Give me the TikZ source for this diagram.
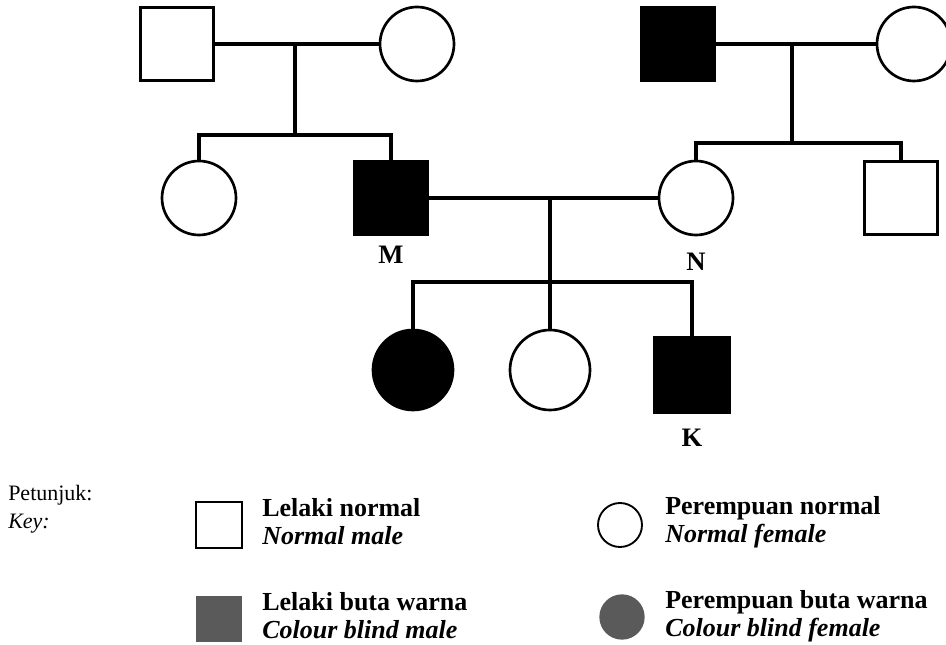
\documentclass[tikz,border=0pt]{standalone}
\usepackage{fontspec}
\setmainfont{Liberation Serif}
\usepackage{xcolor}
\usetikzlibrary{positioning}
\definecolor{keygray}{HTML}{5A5A5A}

\begin{document}
\begin{tikzpicture}[
        x=0.75pt, y=-0.75pt,
        male/.style={draw, line width=2pt, minimum size=55pt, inner sep=0pt},
        female/.style={draw, circle, line width=2pt, minimum size=55.5pt, inner sep=0pt},
        cb/.style={fill=black},
        big/.style={minimum size=60pt},
        tag/.style={font=\fontsize{20}{22}\selectfont\bfseries, inner sep=0pt},
        keytext/.style={font=\fontsize{19.5}{21}\selectfont\bfseries, align=left, anchor=west, inner sep=0pt},
        link/.style={line width=2.8pt}
    ]
    \useasboundingbox (0,0) rectangle (946,645);
    % generation I
    \node[male] (gpm) at (177,44) {};
    \node[female] (gpf) at (417,44) {};
    \node[male, cb] (gqm) at (678,44) {};
    \node[female] (gqf) at (914,44) {};
    % generation II
    \node[female] (aunt) at (199,198) {};
    \node[male, cb] (m) at (391,198) {};
    \node[female] (n) at (696,198) {};
    \node[male] (uncle) at (901,198) {};
    \node[tag, below=7pt of m] (lm) {M};
    \node[tag, below=12pt of n] (ln) {N};
    % generation III
    \node[female, big, cb] (c1) at (413,370) {};
    \node[female, big] (c2) at (550,370) {};
    \node[male, minimum size=56pt, cb] (k) at (692,375) {};
    \node[tag, below=11pt of k] (lk) {K};

    \coordinate (u1) at (295,44);
    \coordinate (s1) at (295,135);
    \coordinate (u2) at (792,44);
    \coordinate (s2) at (792,143);
    \coordinate (u3) at (550,198);
    \coordinate (s3) at (550,282);

    \draw[link] (gpm) -- (gpf);
    \draw[link] (u1) -- (s1);
    \draw[link] (aunt.north) |- (s1) -| (m.north);
    \draw[link] (gqm) -- (gqf);
    \draw[link] (u2) -- (s2);
    \draw[link] (n.north) |- (s2) -| (uncle.north);
    \draw[link] (m) -- (n);
    \draw[link] (u3) -- (c2.north);
    \draw[link] (c1.north) |- (s3) -| (k.north);

    % key
    \node[anchor=base west, inner sep=0pt, font=\fontsize{16.5}{18}\selectfont] (pet) at (8,500) {Petunjuk:};
    \node[anchor=base west, inner sep=0pt, font=\fontsize{16.5}{18}\selectfont\itshape] (key) at (8,528) {Key:};
    \node[draw, line width=1.4pt, minimum size=35pt, inner sep=0pt] (kmn) at (219,525) {};
    \node[fill=keygray, minimum size=35pt, inner sep=0pt] (kmc) at (219,619) {};
    \node[draw, circle, line width=1.4pt, minimum size=33pt, inner sep=0pt] (kfn) at (620,525) {};
    \node[fill=keygray, circle, minimum size=34pt, inner sep=0pt] (kfc) at (622,617) {};
    \node[keytext] (tmn) at (262,522) {Lelaki normal\\ \itshape Normal male};
    \node[keytext] (tmc) at (262,616) {Lelaki buta warna\\ \itshape Colour blind male};
    \node[keytext] (tfn) at (665,522) {Perempuan normal\\ \itshape Normal female};
    \node[keytext] (tfc) at (665,616) {Perempuan buta warna\\ \itshape Colour blind female};
\end{tikzpicture}
\end{document}
